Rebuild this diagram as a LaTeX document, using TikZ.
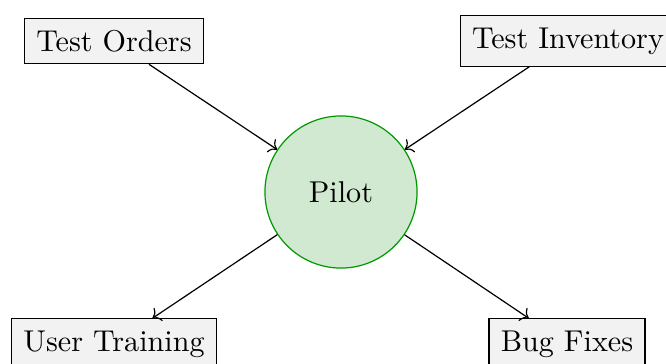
\documentclass[tikz,border=0pt]{standalone}
\usetikzlibrary{arrows.meta,positioning}
\begin{document}
\begin{tikzpicture}[
  x=0.332pt, y=-0.332pt,
  task/.style={draw, fill=gray!10, inner sep=3.9pt},
  hub/.style={circle, draw=green!60!black, fill=green!50!black!18,
              minimum size=50.5pt, inner sep=0pt},
  link/.style={->},
]
\useasboundingbox (0,0) rectangle (666,363);
% ---- centre ----------------------------------------------------------------
\node[hub] (pilot) at (341,192) {Pilot};
% ---- inputs (top row) ------------------------------------------------------
\node[task] (orders)    at (114,41)  {Test Orders};
\node[task] (inventory) at (568,41)  {Test Inventory};
% ---- outputs (bottom row) --------------------------------------------------
\node[task] (training)  at (114,344) {User Training};
\node[task] (bugs)      at (567,344) {Bug Fixes};

\foreach \a/\b in {orders/pilot, inventory/pilot, pilot/training, pilot/bugs}
  \draw[link] (\a) -- (\b);
\end{tikzpicture}
\end{document}
